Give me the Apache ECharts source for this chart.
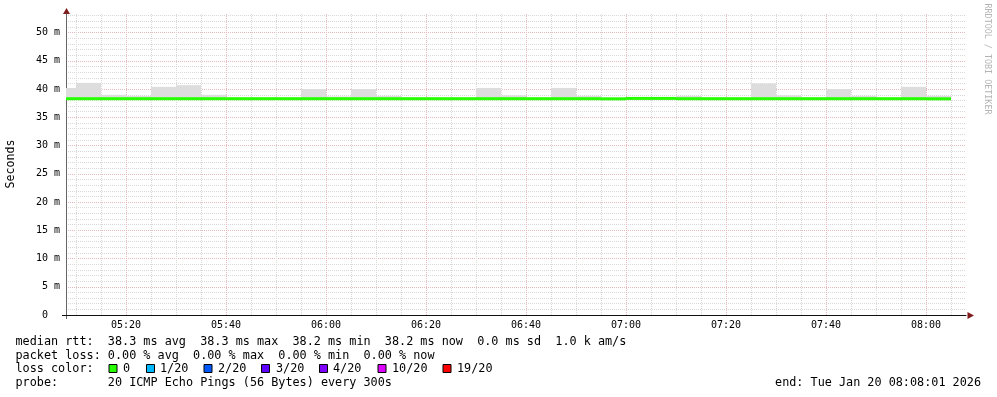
<!DOCTYPE html>
<html><head><meta charset="utf-8">
<script src="https://cdn.jsdelivr.net/npm/echarts@6/dist/echarts.min.js"></script>
<style>html,body{margin:0;padding:0;background:#fff}#c{width:997px;height:397px}</style>
</head><body><div id="c"></div>
<script>
// ---- data ----
const endTimes = ['05:10','05:15','05:20','05:25','05:30','05:35','05:40','05:45','05:50','05:55',
  '06:00','06:05','06:10','06:15','06:20','06:25','06:30','06:35','06:40','06:45','06:50','06:55',
  '07:00','07:05','07:10','07:15','07:20','07:25','07:30','07:35','07:40','07:45','07:50','07:55',
  '08:00','08:05'];
const medianRtt = [38.3,38.3,38.3,38.3,38.3,38.3,38.3,38.3,38.3,38.3,
  38.3,38.3,38.3,38.3,38.3,38.3,38.3,38.3,38.3,38.3,38.3,38.3,
  38.28,38.35,38.35,38.3,38.3,38.3,38.3,38.3,38.3,38.3,38.3,38.3,
  38.3,38.28];
const smokeTop = [40.2,41.1,39.0,38.8,40.4,40.7,39.0,38.4,38.4,38.4,
  40.0,38.7,40.0,38.8,38.4,38.4,38.4,40.2,38.9,38.4,40.2,38.8,
  38.4,38.4,38.4,38.8,38.4,38.4,41.0,38.9,38.4,40.0,38.8,38.4,
  40.4,38.8];
const xTickLabels = ['05:20','05:40','06:00','06:20','06:40','07:00','07:20','07:40','08:00'];
const yTickValues = [0,5,10,15,20,25,30,35,40,45,50];
const yTickLabels = ['0  ','5 m','10 m','15 m','20 m','25 m','30 m','35 m','40 m','45 m','50 m'];
const lossLabels = ['0','1/20','2/20','3/20','4/20','10/20','19/20'];
const lossColors = ['#26ff00','#00b8ff','#0059ff','#5e00ff','#7e00ff','#dd00ff','#ff0000'];
const statLines = [
  'median rtt:  38.3 ms avg  38.3 ms max  38.2 ms min  38.2 ms now  0.0 ms sd  1.0 k am/s',
  'packet loss: 0.00 % avg  0.00 % max  0.00 % min  0.00 % now',
  'loss color:',
  'probe:       20 ICMP Echo Pings (56 Bytes) every 300s'
];
const endText = 'end: Tue Jan 20 08:08:01 2026';
const axisStart = '05:08', axisEnd = '08:08';
const stepMinutes = 5;

// ---- helpers ----
const toMin = s => { const [h, m] = s.split(':').map(Number); return h * 60 + m; };
const fmt = v => { const h = Math.floor(v / 60), m = Math.round(v - h * 60); return String(h).padStart(2,'0') + ':' + String(m).padStart(2,'0'); };
const MONO = 'DejaVu Sans Mono';
const FONT = '11.8px "DejaVu Sans Mono"';
const GRAY = '#d9d9d9', RED = '#e6baba';

const smokeData = endTimes.map((t, i) => [toMin(t), medianRtt[i], smokeTop[i]]);
const medData = endTimes.map((t, i) => [toMin(t), medianRtt[i]]);

const chart = echarts.init(document.getElementById('c'), null, {renderer: 'canvas'});

// legend layout positions for the loss-colour boxes
const lossBoxX = [108.5, 146, 203.5, 261, 319, 377.5, 442.5];
const lossLabelX = [123, 160, 218, 276, 333, 392, 457];
const lineY = [341.8, 355.5, 369.2, 383];

const graphics = [];
statLines.forEach((s, i) => graphics.push({type: 'text', x: 15.5, y: lineY[i], silent: true,
  style: {text: s, font: FONT, fill: '#000', align: 'left', verticalAlign: 'middle'}}));
lossLabels.forEach((l, i) => {
  graphics.push({type: 'rect', silent: true, shape: {x: lossBoxX[i] + 0.5, y: 364.5, width: 8, height: 8},
    style: {fill: lossColors[i], stroke: '#000', lineWidth: 1}});
  graphics.push({type: 'text', x: lossLabelX[i], y: lineY[2], silent: true,
    style: {text: l, font: FONT, fill: '#000', align: 'left', verticalAlign: 'middle'}});
});
graphics.push({type: 'text', x: 981, y: lineY[3], silent: true,
  style: {text: endText, font: FONT, fill: '#000', align: 'right', verticalAlign: 'middle'}});
graphics.push({type: 'text', x: 10.5, y: 164, rotation: Math.PI / 2, silent: true,
  style: {text: 'Seconds', font: '11.6px "DejaVu Sans Mono"', fill: '#000', align: 'center', verticalAlign: 'middle'}});
graphics.push({type: 'text', x: 987, y: 59, rotation: -Math.PI / 2, silent: true,
  style: {text: 'RRDTOOL / TOBI OETIKER', font: '8.4px "DejaVu Sans Mono"', fill: '#b4b4b4', align: 'center', verticalAlign: 'middle'}});
graphics.push({type: 'polygon', silent: true, shape: {points: [[66.5, 8], [63, 14], [70, 14]]}, style: {fill: '#7f1d1d'}});
graphics.push({type: 'polygon', silent: true, shape: {points: [[974, 315.5], [967.5, 312], [967.5, 319]]}, style: {fill: '#7f1d1d'}});
graphics.push({type: 'line', silent: true, shape: {x1: 62, y1: 315.5, x2: 66, y2: 315.5}, style: {stroke: '#111', lineWidth: 1}});
graphics.push({type: 'line', silent: true, shape: {x1: 66.5, y1: 315, x2: 66.5, y2: 319}, style: {stroke: '#666', lineWidth: 1}});

const option = {
  backgroundColor: '#fff',
  animation: false,
  grid: {left: 66, top: 14, width: 900, height: 301, containLabel: false, outerBoundsMode: 'none'},
  xAxis: {
    type: 'value', min: toMin(axisStart), max: toMin(axisEnd),
    minInterval: stepMinutes, maxInterval: stepMinutes, splitNumber: 36,
    axisLine: {show: true, onZero: false, lineStyle: {color: '#111', width: 1}},
    axisTick: {show: false},
    axisLabel: {show: true, margin: 5, fontFamily: MONO, fontSize: 10, color: '#000',
      showMinLabel: false, showMaxLabel: false,
      formatter: v => xTickLabels.includes(fmt(v)) ? fmt(v) : ''},
    splitLine: {show: true, showMinLine: false, showMaxLine: false,
      lineStyle: {color: [GRAY, GRAY, RED, GRAY], width: 1, type: [1, 1]}}
  },
  yAxis: [{
    type: 'value', min: 0, max: 53.3, interval: 1,
    axisLine: {show: true, onZero: false, lineStyle: {color: '#666', width: 1}},
    axisTick: {show: false}, axisLabel: {show: false},
    splitLine: {show: true, showMinLine: true, showMaxLine: false,
      lineStyle: {color: [RED, GRAY, GRAY, GRAY, GRAY], width: 1, type: [1, 1]}}
  }, {
    type: 'value', min: 0, max: 53.3, interval: 5, position: 'left',
    axisLine: {show: false}, axisTick: {show: false}, splitLine: {show: false},
    axisLabel: {show: true, margin: 6, fontFamily: MONO, fontSize: 10, color: '#000',
      showMaxLabel: false,
      formatter: v => { const k = yTickValues.indexOf(Math.round(v * 10) / 10); return k >= 0 ? yTickLabels[k] : ''; }}
  }],
  series: [{
    type: 'custom', name: 'smoke', z: 2, silent: true,
    data: smokeData,
    renderItem: (params, api) => {
      const t = api.value(0), med = api.value(1), top = api.value(2);
      const a = api.coord([t - stepMinutes, top]);
      const b = api.coord([t, med]);
      const cs = params.coordSys;
      const r = echarts.graphic.clipRectByRect({x: a[0], y: a[1], width: b[0] - a[0], height: b[1] - a[1]},
        {x: cs.x, y: cs.y, width: cs.width, height: cs.height});
      return r ? {type: 'rect', shape: r, style: {fill: '#dddddd'}} : null;
    }
  }, {
    type: 'custom', name: 'median rtt', z: 3, silent: true,
    data: medData,
    renderItem: (params, api) => {
      const t = api.value(0), med = api.value(1);
      const cs = params.coordSys;
      const a = api.coord([t - stepMinutes, med]);
      const b = api.coord([t, med]);
      const x1 = Math.max(a[0], cs.x), x2 = Math.min(b[0], cs.x + cs.width);
      if (x2 <= x1) return null;
      return {type: 'rect', shape: {x: x1, y: a[1] - 1.5, width: x2 - x1, height: 3}, style: {fill: '#26ff00'}};
    }
  }],
  graphic: graphics
};
chart.setOption(option);
</script>
</body></html>
